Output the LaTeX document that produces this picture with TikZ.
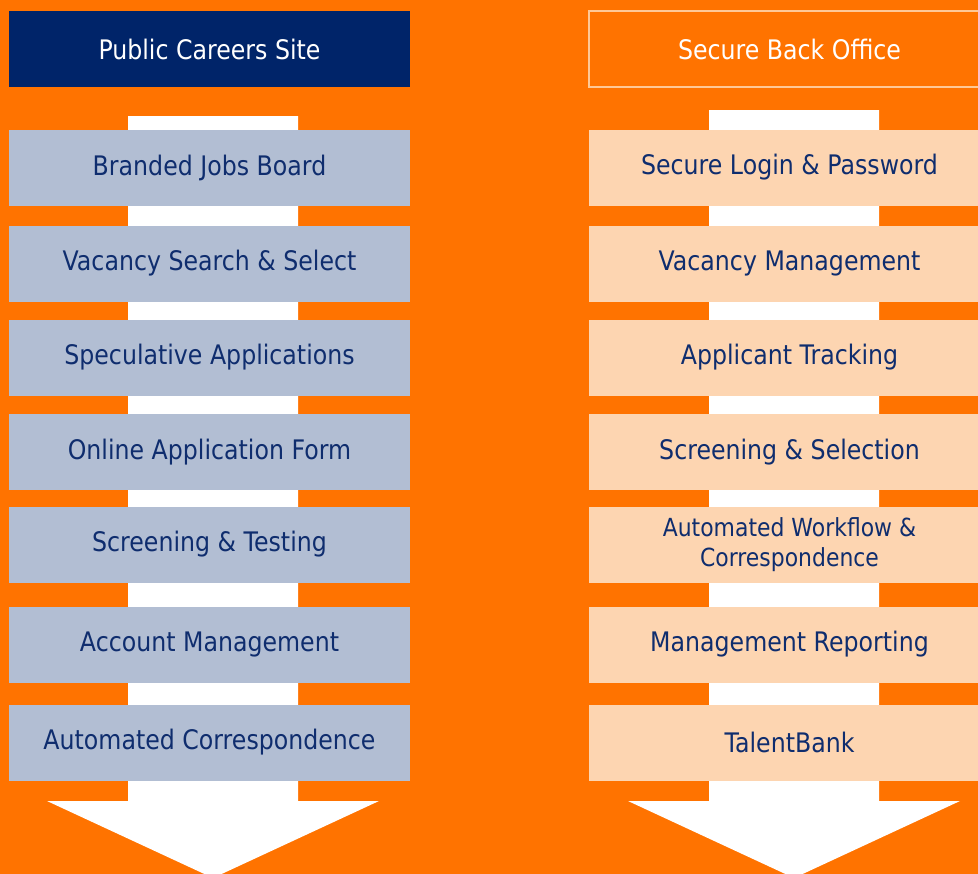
\documentclass[tikz,border=0pt]{standalone}
\usepackage{fontspec}
\setmainfont{DejaVu Sans}[FakeStretch=0.88]
\usetikzlibrary{shapes,arrows}
\definecolor{bgorange}{HTML}{FF7300}
\definecolor{navyblue}{HTML}{002469}
\definecolor{greyblue}{HTML}{B2BED3}
\definecolor{peach}{HTML}{FDD5B1}
\definecolor{peachline}{HTML}{FFC896}
\definecolor{textblue}{HTML}{0F2D6E}
\tikzstyle{header} = [rectangle, minimum width=401bp, minimum height=76bp, inner sep=0pt, text=white, font=\fontsize{27}{30}\selectfont]
\tikzstyle{pubhead} = [header, fill=navyblue]
\tikzstyle{backhead} = [header, draw=peachline, line width=1.5bp]
\tikzstyle{block} = [rectangle, minimum width=401bp, minimum height=76bp, inner sep=0pt, text=textblue, align=center, font=\fontsize{27}{30}\selectfont]
\tikzstyle{pubblock} = [block, fill=greyblue]
\tikzstyle{backblock} = [block, fill=peach]
\tikzstyle{bigarrow} = [fill=white]

\begin{document}
\begin{tikzpicture}[x=1bp, y=-1bp, node distance=96bp]
      \useasboundingbox (0,0) rectangle (978,874);
      \clip (0,0) rectangle (978,874);
      \fill[bgorange] (0,0) rectangle (978,874);

      % white arrows behind the blocks
      \path[bigarrow] (128,116) -- (298,116) -- (298,801) -- (379,801) -- (213,878) -- (47,801) -- (128,801) -- cycle;
      \path[bigarrow] (709,110) -- (879,110) -- (879,801) -- (960,801) -- (794,878) -- (628,801) -- (709,801) -- cycle;

      % place nodes: public side
      \node [pubhead] (pub) at (209.5,49) {Public Careers Site};
      \node [pubblock, below of=pub, node distance=118.5bp] (jobs) {Branded Jobs Board};
      \node [pubblock, below of=jobs] (search) {Vacancy Search \& Select};
      \node [pubblock, below of=search, node distance=94bp] (spec) {Speculative Applications};
      \node [pubblock, below of=spec, node distance=94.5bp] (form) {Online Application Form};
      \node [pubblock, below of=form, node distance=92.5bp] (testing) {Screening \& Testing};
      \node [pubblock, below of=testing, node distance=100bp] (account) {Account Management};
      \node [pubblock, below of=account, node distance=98bp] (corresp) {Automated Correspondence};

      % place nodes: back office side
      \node [backhead, right of=pub, node distance=580bp] (back) {Secure Back Office};
      \node [backblock, right of=jobs, node distance=580bp] (login) {Secure Login \& Password};
      \node [backblock, right of=search, node distance=580bp] (vacancy) {Vacancy Management};
      \node [backblock, right of=spec, node distance=580bp] (tracking) {Applicant Tracking};
      \node [backblock, right of=form, node distance=580bp] (selection) {Screening \& Selection};
      \node [backblock, right of=testing, node distance=580bp, font=\fontsize{25}{30}\selectfont] (workflow) {Automated Workflow \&\\Correspondence};
      \node [backblock, right of=account, node distance=580bp] (reporting) {Management Reporting};
      \node [backblock, right of=corresp, node distance=580bp] (talent) {TalentBank};
\end{tikzpicture}
\end{document}
